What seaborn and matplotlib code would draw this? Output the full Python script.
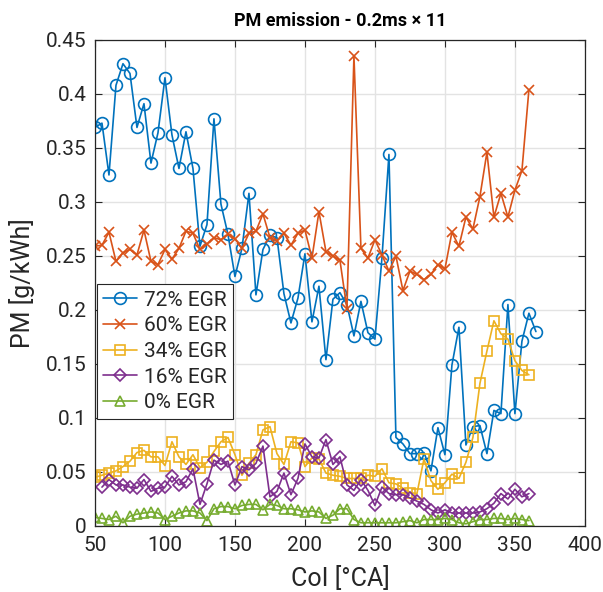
import numpy as np
import pandas as pd
import matplotlib
matplotlib.use("Agg")
import matplotlib.pyplot as plt
import seaborn as sns

# Injection timing sweep (crank angle, °CA)
coi_72 = list(range(50, 370, 5))
coi_60 = list(range(50, 365, 5))
coi_34 = list(range(50, 365, 5))
coi_16 = list(range(55, 365, 5))
coi_0 = list(range(50, 365, 5))

pm_72 = [0.369, 0.373, 0.325, 0.408, 0.428, 0.419, 0.369, 0.391, 0.336, 0.364,
         0.415, 0.362, 0.331, 0.365, 0.331, 0.259, 0.279, 0.377, 0.298, 0.270,
         0.231, 0.257, 0.308, 0.214, 0.256, 0.269, 0.267, 0.215, 0.188, 0.211,
         0.252, 0.189, 0.222, 0.154, 0.210, 0.216, 0.205, 0.176, 0.208, 0.179,
         0.173, 0.248, 0.344, 0.082, 0.076, 0.067, 0.067, 0.068, 0.051, 0.091,
         0.066, 0.149, 0.184, 0.075, 0.092, 0.093, 0.067, 0.107, 0.104, 0.205,
         0.104, 0.171, 0.197, 0.180]

pm_60 = [0.259, 0.260, 0.272, 0.245, 0.253, 0.256, 0.251, 0.274, 0.245, 0.242,
         0.256, 0.247, 0.257, 0.273, 0.271, 0.256, 0.261, 0.267, 0.265, 0.270,
         0.266, 0.257, 0.271, 0.273, 0.289, 0.267, 0.264, 0.271, 0.260, 0.271,
         0.274, 0.248, 0.291, 0.254, 0.250, 0.246, 0.201, 0.435, 0.257, 0.248,
         0.265, 0.251, 0.236, 0.250, 0.218, 0.236, 0.233, 0.228, 0.233, 0.242,
         0.238, 0.272, 0.259, 0.286, 0.275, 0.305, 0.346, 0.286, 0.308, 0.286,
         0.311, 0.329, 0.404]

pm_34 = [0.045, 0.047, 0.049, 0.051, 0.055, 0.060, 0.068, 0.070, 0.064, 0.064,
         0.056, 0.078, 0.064, 0.057, 0.066, 0.054, 0.059, 0.069, 0.078, 0.082,
         0.066, 0.047, 0.058, 0.066, 0.089, 0.092, 0.067, 0.057, 0.078, 0.077,
         0.055, 0.063, 0.062, 0.049, 0.047, 0.046, 0.044, 0.044, 0.044, 0.047,
         0.046, 0.053, 0.040, 0.039, 0.035, 0.031, 0.030, 0.062, 0.042, 0.034,
         0.040, 0.048, 0.044, 0.059, 0.082, 0.132, 0.162, 0.190, 0.178, 0.173,
         0.153, 0.144, 0.140]

pm_16 = [0.036, 0.043, 0.038, 0.038, 0.036, 0.035, 0.043, 0.032, 0.035,
         0.036, 0.046, 0.038, 0.041, 0.053, 0.020, 0.039, 0.061, 0.057, 0.060,
         0.038, 0.055, 0.052, 0.058, 0.074, 0.027, 0.032, 0.049, 0.029, 0.044,
         0.076, 0.064, 0.063, 0.080, 0.057, 0.064, 0.038, 0.033, 0.043, 0.033,
         0.019, 0.036, 0.030, 0.029, 0.029, 0.026, 0.023, 0.020, 0.015, 0.012,
         0.015, 0.012, 0.012, 0.012, 0.012, 0.013, 0.016, 0.021, 0.030, 0.025,
         0.034, 0.027, 0.030]

pm_0 = [0.008, 0.007, 0.006, 0.009, 0.003, 0.009, 0.011, 0.012, 0.013, 0.012,
        0.006, 0.009, 0.012, 0.014, 0.014, 0.012, 0.005, 0.016, 0.018, 0.018,
        0.016, 0.019, 0.020, 0.020, 0.015, 0.020, 0.019, 0.016, 0.016, 0.015,
        0.013, 0.014, 0.013, 0.007, 0.010, 0.016, 0.016, 0.006, 0.003, 0.003,
        0.003, 0.003, 0.003, 0.003, 0.004, 0.005, 0.003, 0.006, 0.006, 0.006,
        0.007, 0.006, 0.003, 0.002, 0.004, 0.006, 0.006, 0.007, 0.007, 0.006,
        0.007, 0.006, 0.005]

series_labels = ["72% EGR", "60% EGR", "34% EGR", "16% EGR", "0% EGR"]
x_ticks = [50, 100, 150, 200, 250, 300, 350, 400]
y_ticks = [0, 0.05, 0.1, 0.15, 0.2, 0.25, 0.3, 0.35, 0.4, 0.45]
y_tick_labels = ["0", "0.05", "0.1", "0.15", "0.2", "0.25", "0.3", "0.35", "0.4", "0.45"]

sns.set_style("ticks")
plt.rcParams["font.family"] = ["Roboto", "DejaVu Sans"]

fig = plt.figure(figsize=(6.03, 5.92), dpi=100)
ax = fig.add_axes([0.1575, 0.1115, 0.8125, 0.821])

styles = [
    (coi_72, pm_72, "#0072BD", "o", 8.5, True),
    (coi_60, pm_60, "#D95319", "x", 6.5, False),
    (coi_34, pm_34, "#EDB120", "s", 6.8, True),
    (coi_16, pm_16, "#7E2F8E", "D", 6.5, True),
    (coi_0, pm_0, "#77AC30", "^", 7.5, True),
]

for (xs, ys, col, mk, ms, hollow), lab in zip(styles, series_labels):
    df = pd.DataFrame({"coi": xs, "pm": ys})
    kw = dict(markerfacecolor="none") if hollow else {}
    sns.lineplot(data=df, x="coi", y="pm", ax=ax, color=col, marker=mk,
                 markersize=ms, markeredgecolor=col, markeredgewidth=1.2,
                 linewidth=1.2, label=lab, sort=False, estimator=None, **kw)

ax.set_xlim(50, 400)
ax.set_ylim(0, 0.45)
ax.set_xticks(x_ticks)
ax.set_xticklabels([str(v) for v in x_ticks])
ax.set_yticks(y_ticks)
ax.set_yticklabels(y_tick_labels)
ax.grid(True, color="#E3E3E3", linewidth=1.0)
ax.set_axisbelow(True)
ax.tick_params(direction="in", top=True, right=True, length=5, width=0.8,
               labelsize=15, colors="#262626")
ax.tick_params(axis="x", pad=7)
ax.tick_params(axis="y", pad=6)
for sp in ax.spines.values():
    sp.set_visible(True)
    sp.set_color("#262626")
    sp.set_linewidth(0.9)

ax.set_xlabel("CoI [°CA]", fontsize=18, color="#262626", labelpad=8)
ax.set_ylabel("PM [g/kWh]", fontsize=18, color="#262626", labelpad=8)
ax.set_title("PM emission - 0.2ms × 11", fontsize=13, fontweight="bold",
             color="black", pad=10)

leg = ax.legend(loc="upper left", bbox_to_anchor=(0.004, 0.497), fontsize=15,
                frameon=True, fancybox=False, borderpad=0.3, labelspacing=0.32,
                handlelength=1.6, handletextpad=0.35, borderaxespad=0.0)
leg.get_frame().set_edgecolor("#262626")
leg.get_frame().set_linewidth(0.8)
leg.get_frame().set_alpha(1.0)

fig.savefig("out.png", dpi=100, facecolor="white")
